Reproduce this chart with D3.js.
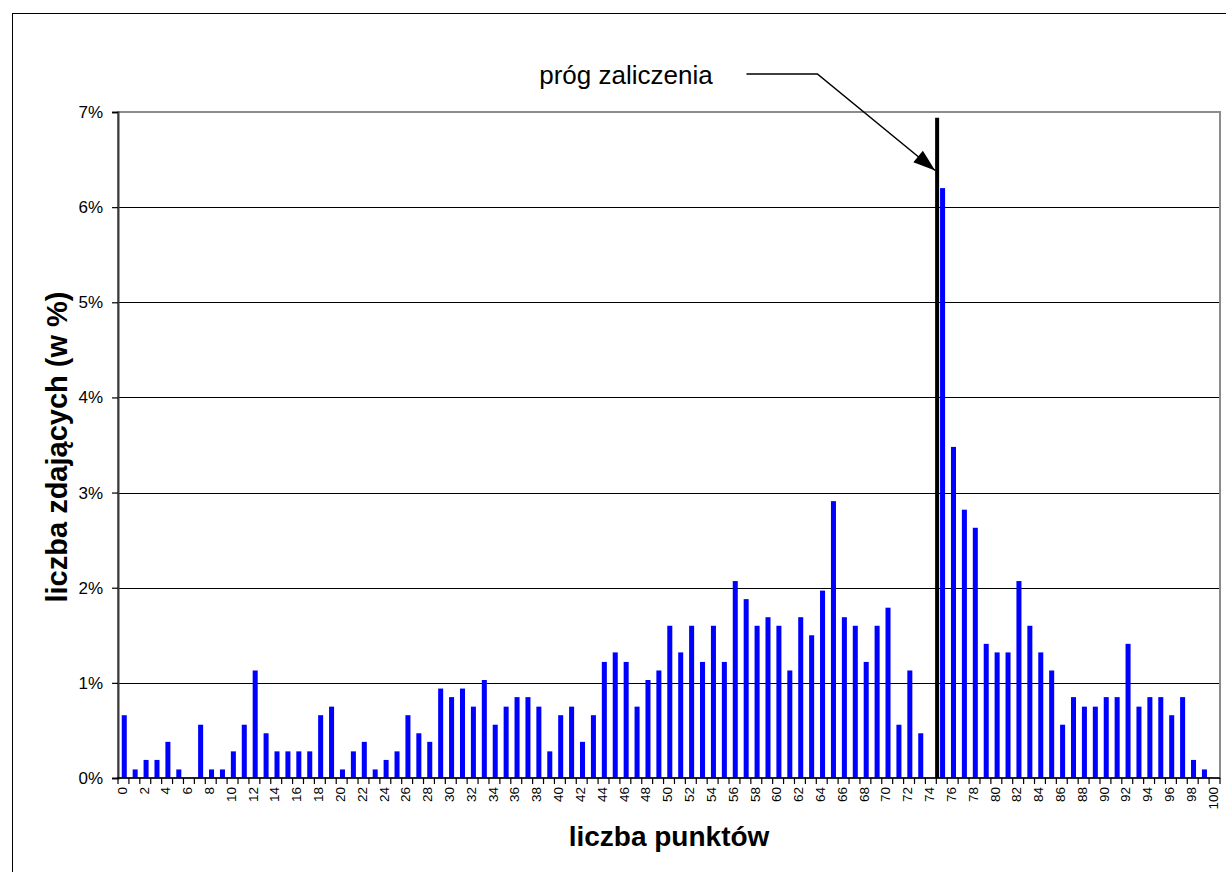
<!DOCTYPE html>
<html>
<head>
<meta charset="utf-8">
<script src="https://cdn.jsdelivr.net/npm/d3@7/dist/d3.min.js"></script>
<style>
  html, body { margin: 0; padding: 0; background: #fff; }
  svg { display: block; }
  text { font-family: "Liberation Sans", Arial, sans-serif; }
</style>
</head>
<body>
<svg id="chart" width="1226" height="872"></svg>
<script>
// ---- data ----
const categories = [0,1,2,3,4,5,6,7,8,9,10,11,12,13,14,15,16,17,18,19,20,21,22,23,24,25,26,27,28,29,30,31,32,33,34,35,36,37,38,39,40,41,42,43,44,45,46,47,48,49,50,51,52,53,54,55,56,57,58,59,60,61,62,63,64,65,66,67,68,69,70,71,72,73,74,75,76,77,78,79,80,81,82,83,84,85,86,87,88,89,90,91,92,93,94,95,96,97,98,99,100];
const values = [
  0.66,0.09,0.19,0.19,0.38,0.09,0.00,0.56,0.09,0.09,
  0.28,0.56,1.13,0.47,0.28,0.28,0.28,0.28,0.66,0.75,
  0.09,0.28,0.38,0.09,0.19,0.28,0.66,0.47,0.38,0.94,
  0.85,0.94,0.75,1.03,0.56,0.75,0.85,0.85,0.75,0.28,
  0.66,0.75,0.38,0.66,1.22,1.32,1.22,0.75,1.03,1.13,
  1.60,1.32,1.60,1.22,1.60,1.22,2.07,1.88,1.60,1.69,
  1.60,1.13,1.69,1.50,1.97,2.91,1.69,1.60,1.22,1.60,
  1.79,0.56,1.13,0.47,0.00,6.20,3.48,2.82,2.63,1.41,
  1.32,1.32,2.07,1.60,1.32,1.13,0.56,0.85,0.75,0.75,
  0.85,0.85,1.41,0.75,0.85,0.85,0.66,0.85,0.19,0.09,
  0.00
];
const yTicks = [0,1,2,3,4,5,6,7];
const xTickLabels = categories.filter(c => c % 2 === 0);
const thresholdScore = 75;
const annotationText = "próg zaliczenia";
const xTitle = "liczba punktów";
const yTitle = "liczba zdających (w %)";

// ---- layout ----
const W = 1226, H = 872;
const plot = { left: 118, right: 1220, top: 112, bottom: 778 };

const svg = d3.select("#chart");

svg.append("rect").attr("x", 0).attr("y", 0).attr("width", W).attr("height", H).attr("fill", "#fff");
// outer frame
svg.append("rect").attr("x", 12.5).attr("y", 13.5).attr("width", 1230).attr("height", 880)
  .attr("fill", "none").attr("stroke", "#000").attr("stroke-width", 1);

const x = d3.scaleBand().domain(categories).range([plot.left, plot.right])
  .paddingInner(0.54).paddingOuter(0.27);
// boundary scale (category edges)
const xb = d3.scaleLinear().domain([0, categories.length]).range([plot.left, plot.right]);
const y = d3.scaleLinear().domain([0, 7]).range([plot.bottom, plot.top]);

// gridlines
svg.append("g").selectAll("line").data(yTicks.filter(t => t > 0 && t < 7)).join("line")
  .attr("x1", plot.left).attr("x2", plot.right)
  .attr("y1", d => Math.round(y(d)) + 0.5).attr("y2", d => Math.round(y(d)) + 0.5)
  .attr("stroke", "#000").attr("stroke-width", 1);

// plot border (gray)
svg.append("rect").attr("x", plot.left).attr("y", plot.top)
  .attr("width", plot.right - plot.left).attr("height", plot.bottom - plot.top)
  .attr("fill", "none").attr("stroke", "#8c8c8c").attr("stroke-width", 2);

// bars
svg.append("g").selectAll("rect").data(categories.map((c, i) => ({ c, v: values[i] }))).join("rect")
  .attr("x", d => x(d.c) + 0.8)
  .attr("width", x.bandwidth())
  .attr("y", d => y(d.v))
  .attr("height", d => y(0) - y(d.v))
  .attr("fill", "#0000ff");

// y axis
const yAxis = d3.axisLeft(y).tickValues(yTicks).tickFormat(d => d + "%").tickSize(6).tickPadding(9);
const gy = svg.append("g").attr("transform", `translate(${plot.left},0)`).call(yAxis);
gy.attr("font-size", null).attr("font-family", null);
gy.select(".domain").attr("stroke", "#3a3a3a").attr("stroke-width", 2);
gy.selectAll(".tick line").attr("stroke", "#000").attr("stroke-width", 1.2);
gy.selectAll(".tick text").attr("font-size", 17).attr("fill", "#000")
  .attr("font-family", "'Liberation Sans', Arial, sans-serif");

// x axis baseline
svg.append("line").attr("x1", plot.left - 1).attr("x2", plot.right)
  .attr("y1", plot.bottom).attr("y2", plot.bottom).attr("stroke", "#000").attr("stroke-width", 1.6);
// x tick marks at category boundaries
svg.append("g").selectAll("line").data(d3.range(0, categories.length + 1)).join("line")
  .attr("x1", d => xb(d)).attr("x2", d => xb(d))
  .attr("y1", plot.bottom).attr("y2", plot.bottom + 6)
  .attr("stroke", "#000").attr("stroke-width", 1.2);
// x tick labels (rotated)
svg.append("g").selectAll("text").data(xTickLabels).join("text")
  .attr("transform", d => `translate(${x(d) + x.bandwidth() / 2 - 1.5},${plot.bottom + 9}) rotate(-90)`)
  .attr("text-anchor", "end").attr("dy", "0.35em")
  .attr("font-size", 13.5).attr("fill", "#000")
  .text(d => d);

// axis titles
svg.append("text").attr("x", 669).attr("y", 846)
  .attr("text-anchor", "middle").attr("font-size", 28).attr("font-weight", "bold").attr("fill", "#000")
  .text(xTitle);
svg.append("text").attr("transform", `translate(67,${(plot.top + plot.bottom) / 2 + 2}) rotate(-90)`)
  .attr("text-anchor", "middle").attr("font-size", 29).attr("font-weight", "bold").attr("fill", "#000")
  .text(yTitle);

// threshold line
const tx = xb(thresholdScore) + 0.8;
svg.append("line").attr("x1", tx).attr("x2", tx)
  .attr("y1", y(6.94)).attr("y2", plot.bottom)
  .attr("stroke", "#000").attr("stroke-width", 4);

// annotation
const textEnd = xb(54.5);
svg.append("text").attr("x", textEnd).attr("y", y(7.295))
  .attr("text-anchor", "end").attr("font-size", 26).attr("fill", "#000")
  .text(annotationText);

const p0 = [xb(57.6), y(7.40)];
const p1 = [xb(64.1), y(7.40)];
const tip = [tx - 2, y(6.385)];
svg.append("path")
  .attr("d", d3.line()([p0, p1, tip]))
  .attr("fill", "none").attr("stroke", "#000").attr("stroke-width", 1.5);
// arrowhead
const ang = Math.atan2(tip[1] - p1[1], tip[0] - p1[0]);
const L = 22, hw = 7.5;
const bx = tip[0] - L * Math.cos(ang), by = tip[1] - L * Math.sin(ang);
const nx = -Math.sin(ang), ny = Math.cos(ang);
svg.append("path")
  .attr("d", `M${tip[0]},${tip[1]} L${bx + nx * hw},${by + ny * hw} L${bx - nx * hw},${by - ny * hw} Z`)
  .attr("fill", "#000");
</script>
</body>
</html>
